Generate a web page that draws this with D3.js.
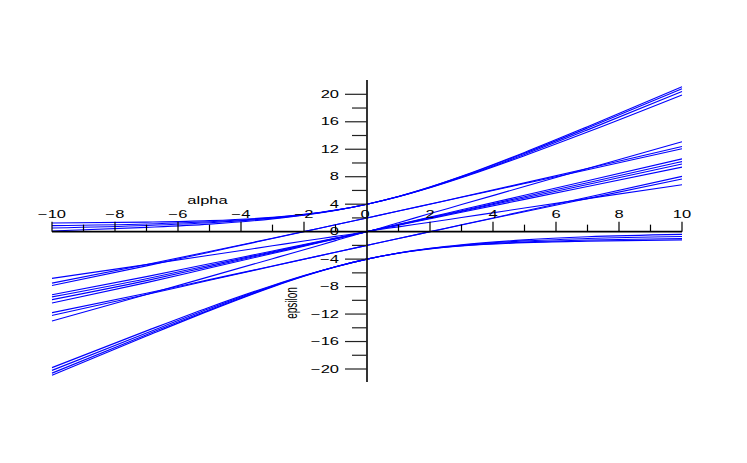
<!DOCTYPE html>
<html>
<head>
<meta charset="utf-8">
<script src="https://cdn.jsdelivr.net/npm/d3@7"></script>
<style>
  html, body { margin: 0; padding: 0; background: #fff; }
  svg { display: block; }
  text { font-family: "Liberation Sans", Arial, sans-serif; font-size: 10px; fill: #000; }
</style>
</head>
<body>
<svg id="chart" width="747" height="463"></svg>
<script>
// sample positions along alpha
const alpha = [-10, -7, -5, -3, -2, -1, 0, 1, 2, 3, 5, 7, 10];

// steep branches through epsilon = 4
const steepUpper1 = [1.25, 1.38, 1.6, 2.08, 2.51, 3.13, 4, 5.13, 6.5, 8.06, 11.54, 15.28, 21.1];
const steepUpper2 = [0.88, 1.12, 1.44, 2.02, 2.48, 3.12, 4, 5.12, 6.48, 8.01, 11.42, 15.08, 20.8];
const steepUpper3 = [0.53, 0.9, 1.3, 1.95, 2.44, 3.11, 4, 5.11, 6.44, 7.93, 11.25, 14.82, 20.4];
const steepUpper4 = [0.1, 0.62, 1.1, 1.86, 2.4, 3.1, 4, 5.1, 6.39, 7.84, 11.06, 14.5, 19.9];
// steep branches through epsilon = -4
const steepLower1 = [-20.9, -15.2, -11.5, -8.04, -6.49, -5.13, -4, -3.14, -2.52, -2.1, -1.6, -1.38, -1.2];
const steepLower2 = [-20.6, -15.0, -11.38, -7.99, -6.47, -5.12, -4, -3.13, -2.5, -2.05, -1.5, -1.22, -1.0];
const steepLower3 = [-20.2, -14.75, -11.2, -7.92, -6.43, -5.11, -4, -3.12, -2.46, -1.98, -1.35, -1.0, -0.7];
const steepLower4 = [-19.8, -14.45, -11.0, -7.83, -6.39, -5.1, -4, -3.1, -2.42, -1.9, -1.2, -0.75, -0.4];
// middle branches
const mid1Up = [-6.8, -4.8, -3.44, -2.06, -1.37, -0.69, 0, 1.31, 2.63, 3.94, 6.57, 9.19, 13.1];
const mid1Dn = [-13.0, -9.15, -6.55, -3.94, -2.63, -1.31, 0, 0.69, 1.37, 2.06, 3.44, 4.81, 6.84];
const mid2Up = [-7.5, -4.78, -2.89, -0.96, 0.02, 1.0, 2, 3.0, 4.02, 5.04, 7.1, 9.19, 12.4];
const mid2Dn = [-12.2, -9.15, -7.08, -5.03, -4.02, -3.0, -2, -1.0, -0.02, 0.96, 2.9, 4.81, 7.66];
const mid3Up = [-7.85, -4.98, -2.99, -1.0, 0.0, 1.0, 2, 3.0, 4.0, 5.0, 7.0, 9.01, 12.07];
const mid3Dn = [-11.8, -8.98, -6.99, -5.0, -4.0, -3.0, -2, -1.0, 0.0, 1.0, 3.0, 5.01, 8.05];
const mid4Up = [-9.2, -6.55, -4.68, -2.82, -1.88, -0.94, 0, 1.06, 2.12, 3.18, 5.3, 7.42, 10.6];
const mid4Dn = [-10.4, -7.42, -5.3, -3.18, -2.12, -1.06, 0, 0.94, 1.88, 2.82, 4.7, 6.58, 9.4];
const mid5Up = [-9.5, -6.85, -4.9, -2.95, -1.96, -0.98, 0, 1.02, 2.04, 3.05, 5.09, 7.13, 10.2];
const mid5Dn = [-9.9, -7.13, -5.09, -3.05, -2.04, -1.02, 0, 0.98, 1.96, 2.95, 4.91, 6.87, 9.85];

const curves = [steepUpper1, steepUpper2, steepUpper3, steepUpper4,
                steepLower1, steepLower2, steepLower3, steepLower4,
                mid1Up, mid1Dn, mid2Up, mid2Dn, mid3Up, mid3Dn,
                mid4Up, mid4Dn, mid5Up, mid5Dn];

// tick values
const xTicks = [-10, -9, -8, -7, -6, -5, -4, -3, -2, -1, 1, 2, 3, 4, 5, 6, 7, 8, 9, 10];
const xTickLabels = [-10, -8, -6, -4, -2, 0, 2, 4, 6, 8, 10];
const yTicks = [-20, -18, -16, -14, -12, -10, -8, -6, -4, -2, 2, 4, 6, 8, 10, 12, 14, 16, 18, 20];
const yTickLabels = [-20, -16, -12, -8, -4, 0, 4, 8, 12, 16, 20];

const svg = d3.select("#chart");
const x = d3.scaleLinear().domain([-10, 10]).range([52, 682]);
const y = d3.scaleLinear().domain([-20, 20]).range([369, 94.3]);
const SX = 1.65;
const fmt = v => (v < 0 ? "\u2212" + Math.abs(v) : String(v));

const line = d3.line()
  .x((d, i) => x(alpha[i]))
  .y(d => y(d))
  .curve(d3.curveMonotoneX);

svg.append("g").selectAll("path").data(curves).join("path")
  .attr("d", d => line(d))
  .attr("fill", "none")
  .attr("stroke", "#0000ff")
  .attr("stroke-width", 1.1);

const x0 = x(0), y0 = y(0);

// x axis
const gx = svg.append("g");
gx.append("line").attr("x1", x(-10)).attr("x2", x(10)).attr("y1", y0).attr("y2", y0)
  .attr("stroke", "#000").attr("stroke-width", 1.6);
gx.selectAll("line.t").data(xTicks).join("line").attr("class", "t")
  .attr("x1", d => x(d)).attr("x2", d => x(d))
  .attr("y1", y0).attr("y2", d => y0 - (d % 2 === 0 ? 10 : 7))
  .attr("stroke", "#000").attr("stroke-width", 1.2);
gx.selectAll("text").data(xTickLabels).join("text")
  .attr("text-anchor", "middle")
  .attr("transform", d => `translate(${x(d) - (d === 0 ? 2 : 0)},${y0 - 13.5}) scale(${SX},1)`)
  .text(fmt);

// y axis
const gy = svg.append("g");
gy.append("line").attr("x1", x0).attr("x2", x0).attr("y1", 80).attr("y2", 382)
  .attr("stroke", "#000").attr("stroke-width", 1.6);
gy.selectAll("line.t").data(yTicks).join("line").attr("class", "t")
  .attr("x1", x0).attr("x2", d => x0 - (d % 4 === 0 ? 22 : 15))
  .attr("y1", d => y(d)).attr("y2", d => y(d))
  .attr("stroke", "#222").attr("stroke-width", 1.2);
gy.selectAll("text").data(yTickLabels).join("text")
  .attr("text-anchor", "end")
  .attr("transform", d => `translate(${x0 - 28},${y(d) + 3.5}) scale(${SX},1)`)
  .text(fmt);

// axis titles
svg.append("text").attr("text-anchor", "middle")
  .attr("transform", `translate(207.5,203.5) scale(${SX},1)`)
  .text("alpha");
svg.append("text").attr("text-anchor", "middle")
  .attr("transform", `translate(296.5,303) scale(${SX},1) rotate(-90)`)
  .text("epsilon");
</script>
</body>
</html>
